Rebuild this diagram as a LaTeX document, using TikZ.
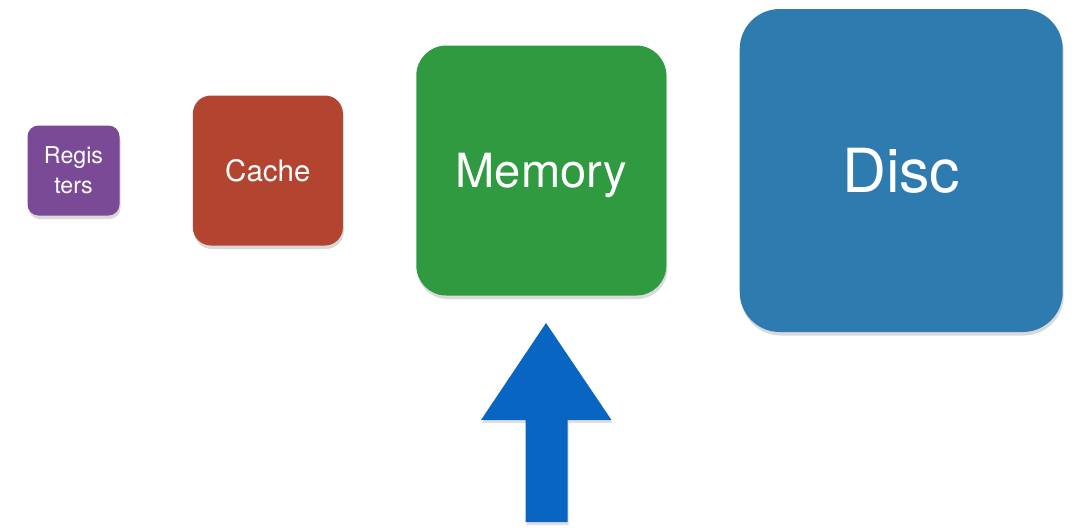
\documentclass[tikz,border=0pt]{standalone}
\usepackage{fontspec}
\setmainfont{TeX Gyre Heros}
\usetikzlibrary{positioning,shadows}
\definecolor{regpurple}{RGB}{123,74,150}
\definecolor{cachered}{RGB}{179,68,47}
\definecolor{memgreen}{RGB}{47,154,64}
\definecolor{discblue}{RGB}{46,123,176}
\definecolor{arrowblue}{RGB}{8,102,194}
\tikzset{
  store/.style={text=white, align=center, inner sep=0pt,
    drop shadow={shadow xshift=0.01cm, shadow yshift=-0.035cm, opacity=0.3}},
  oneline/.style={text height=#1, text depth=0pt},
}
\begin{document}
\begin{tikzpicture}[node distance=0.72cm]
  \useasboundingbox (0,0) rectangle (10.77,5.27);
  \node[store, fill=regpurple, minimum width=0.92cm, minimum height=0.90cm,
    rounded corners=0.11cm, font=\fontsize{6.6}{8.6}\selectfont]
    (reg) at (0.735,3.565) {Regis\\ters};
  \node[store, oneline=6pt, fill=cachered, minimum size=1.50cm, rounded corners=0.18cm,
    font=\fontsize{8.4}{10}\selectfont, right=of reg] (cache) {Cache};
  \node[store, oneline=9.6pt, fill=memgreen, minimum size=2.50cm, rounded corners=0.30cm,
    font=\fontsize{13.4}{16}\selectfont, right=of cache] (mem) {Memory};
  \node[store, oneline=12.4pt, fill=discblue, minimum size=3.23cm, rounded corners=0.40cm,
    font=\fontsize{17.3}{20}\selectfont, right=of mem] (disc) {Disc};
  % big arrow under the memory
  \coordinate (tip) at (5.46,2.04);
  \fill[arrowblue, drop shadow={shadow xshift=0.01cm, shadow yshift=-0.03cm, opacity=0.25}]
    (tip) -- ++(0.655,-0.97) -- ++(-0.44,0) -- ++(0,-1.02) -- ++(-0.42,0)
    -- ++(0,1.02) -- ++(-0.445,0) -- cycle;
\end{tikzpicture}
\end{document}
